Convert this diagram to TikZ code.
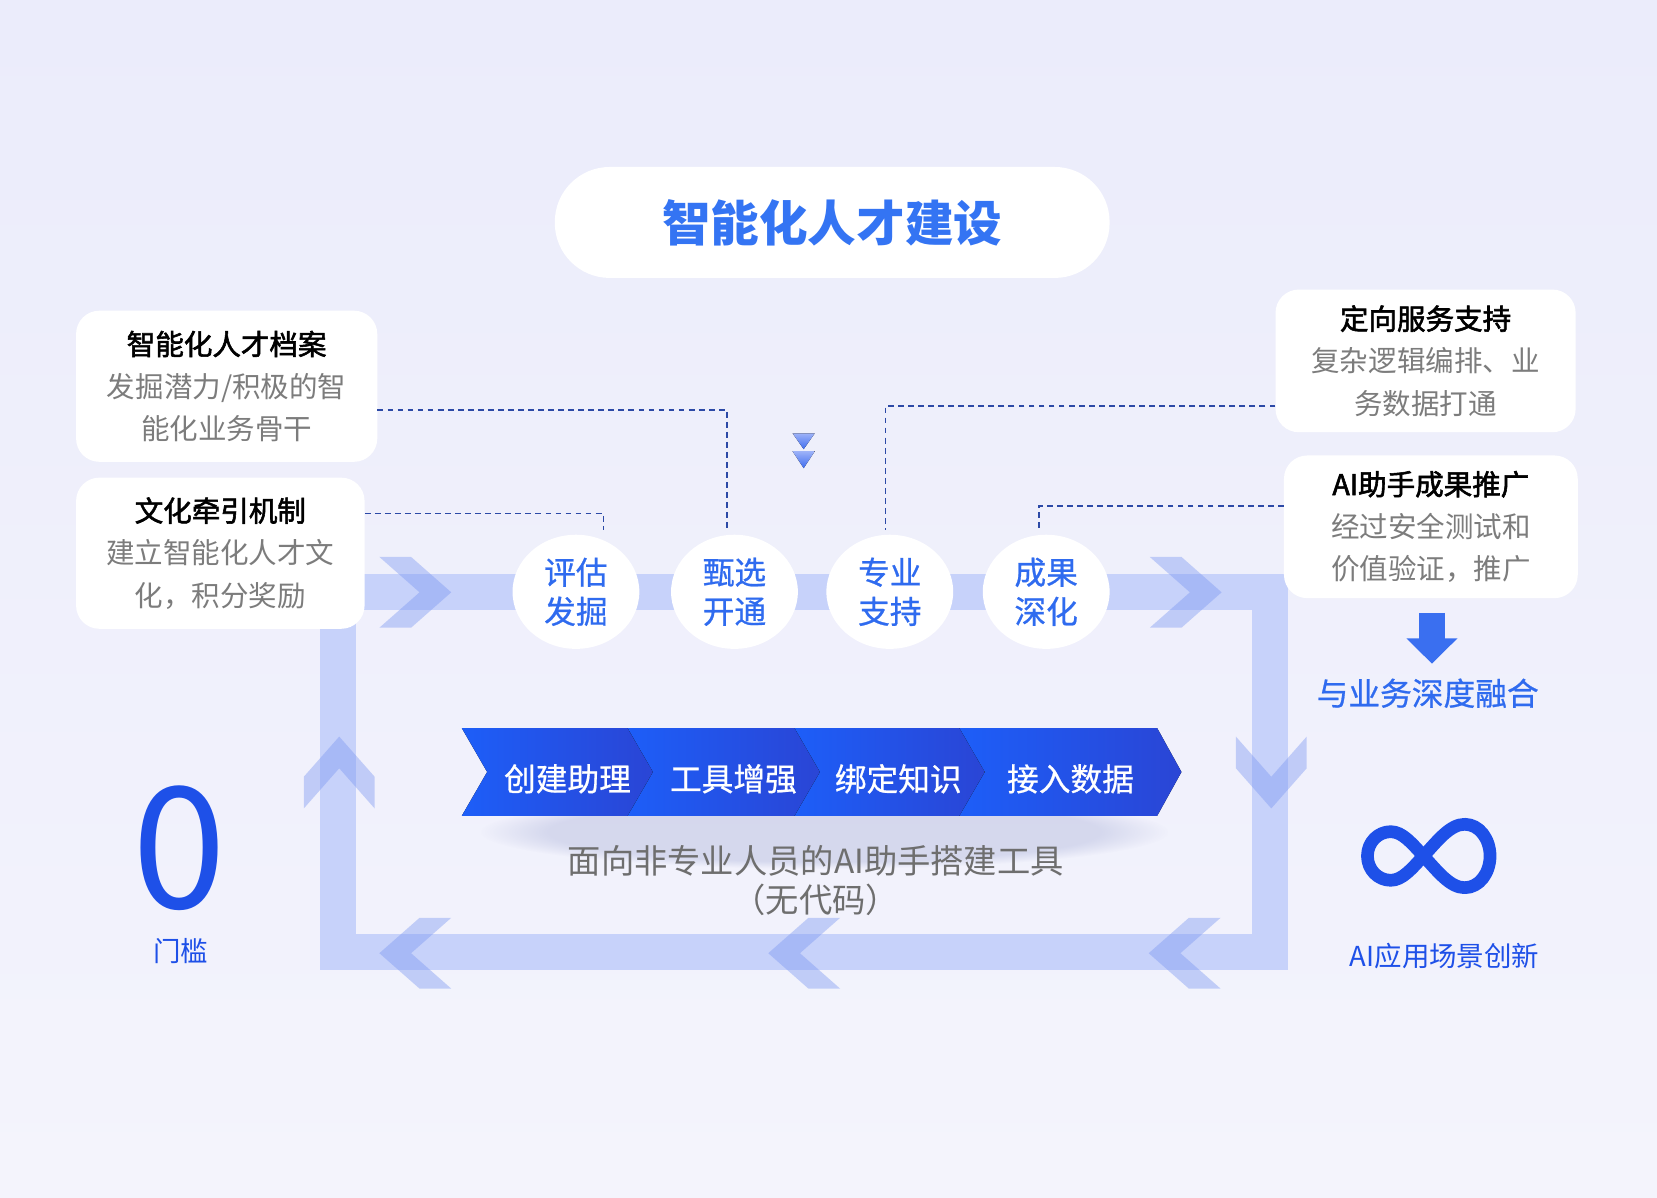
\documentclass[tikz,border=0pt]{standalone}
\usepackage{fontspec}
\setmainfont{Noto Sans CJK SC}
\newfontfamily\semib[FakeBold=2]{Noto Sans CJK SC}
\newfontfamily\medf[FakeBold=0.7]{Noto Sans CJK SC}
\usetikzlibrary{arrows.meta,shapes.geometric,fadings}
\definecolor{bgtop}{HTML}{EBECFB}
\definecolor{bgbot}{HTML}{F4F4FC}
\definecolor{bandcol}{HTML}{C7D2FA}
\definecolor{chevcol}{HTML}{7D98F2}
\definecolor{tblue}{HTML}{2F6BEF}
\definecolor{titleblue}{HTML}{3474F3}
\definecolor{dblue}{HTML}{1E50E8}
\definecolor{gtext}{HTML}{7C7C7C}
\definecolor{btext}{HTML}{6E6E6E}
\definecolor{dashcol}{HTML}{2C49A6}
\definecolor{seglft}{HTML}{1D5EF8}
\definecolor{segrgt}{HTML}{2A45D5}
\definecolor{arrowblue}{HTML}{3A6FF0}
\definecolor{trilight}{HTML}{9DB2F8}
\definecolor{trideep}{HTML}{3E6CF0}
\definecolor{shadowcol}{HTML}{6570B5}
\begin{document}
\begin{tikzpicture}[x=1pt,y=-1pt,
  card/.style={fill=white, rounded corners=22pt, inner sep=0pt, align=center,
    font=\fontsize{27}{40}\selectfont},
  bubble/.style={ellipse, fill=white, minimum width=120pt, minimum height=108pt,
    inner sep=0pt, align=center, text=tblue, font=\medf\fontsize{30}{37}\selectfont},
  link/.style={draw=dashcol, line width=1.7pt, dash pattern=on 5.5pt off 4pt, shorten >=4pt},
  segtext/.style={text=white, inner sep=0pt, font=\medf\fontsize{30}{30}\selectfont},
  seg/.style={left color=seglft, right color=segrgt, draw=none},
  chevshape/.pic={\fill[chevcol, fill opacity=0.42]
     (-34,-33.5) -- (-4,-33.5) -- (34,0) -- (-4,33.5) -- (-34,33.5) -- (4,0) -- cycle;}
]
\useasboundingbox (0,0) rectangle (1568,1133);
% background
\fill[top color=bgtop, bottom color=bgbot] (0,0) rectangle (1568,1133);

% flow band frame
\draw[bandcol, line width=34pt] (320,560) rectangle (1201.5,900.5);

% chevrons on the band
\pic at (393,560.5) {chevshape};
\pic at (1122,560.5) {chevshape};
\pic[rotate=-90] at (1203,731) {chevshape};
\pic[rotate=90] at (321,731) {chevshape};
\pic[rotate=180] at (393,902) {chevshape};
\pic[rotate=180] at (761,902) {chevshape};
\pic[rotate=180] at (1121,902) {chevshape};

% title
\node[fill=white, rounded corners=52pt, minimum width=525pt, minimum height=105pt,
  inner sep=0pt, text=titleblue, font=\fontsize{46}{46}\selectfont\bfseries]
  (title) at (787.5,210.5) {智能化人才建设};

% small double triangles
\fill[top color=trilight, bottom color=trideep] (750,410) -- (771,410) -- (760.5,425) -- cycle;
\fill[top color=trilight, bottom color=trideep] (750,427) -- (771,427) -- (760.5,443) -- cycle;

% cards
\node[card, minimum width=285pt, minimum height=143pt] (box1) at (214.5,365.5)
  {{\semib 智能化人才档案}\\\textcolor{gtext}{发掘潜力/积极的智}\\\textcolor{gtext}{能化业务骨干}};
\node[card, minimum width=273pt, minimum height=143pt] (box2) at (208.5,523.5)
  {{\semib 文化牵引机制}\\\textcolor{gtext}{建立智能化人才文}\\\textcolor{gtext}{化，积分奖励}};
\node[card, minimum width=284pt, minimum height=135pt] (box3) at (1349,341.5)
  {{\semib 定向服务支持}\\\textcolor{gtext}{复杂逻辑编排、业}\\\textcolor{gtext}{务数据打通}};
\node[card, minimum width=278pt, minimum height=135pt] (box4) at (1354,498.5)
  {{\semib AI助手成果推广}\\\textcolor{gtext}{经过安全测试和}\\\textcolor{gtext}{价值验证，推广}};

% bubbles
\node[bubble] (c1) at (545,560) {评估\\发掘};
\node[bubble] (c2) at (695,560) {甄选\\开通};
\node[bubble] (c3) at (842,560) {专业\\支持};
\node[bubble] (c4) at (990,560) {成果\\深化};

% dashed links
\draw[link] ([yshift=-22.5pt]box1.east) -| ([xshift=-7pt]c2.north);
\draw[link] ([yshift=37.5pt]box2.east) -| ([xshift=26pt]c1.north);
\draw[link] ([yshift=-42.5pt]box3.west) -| ([xshift=-4pt]c3.north);
\draw[link] ([yshift=19.5pt]box4.west) -| ([xshift=-7pt]c4.north);

% shadow under process bar
\fill[shadowcol, opacity=0.2, path fading=circle with fuzzy edge 20 percent]
  (455,752) rectangle (1105,822);

% process bar
\fill[seg] (437,689) -- (594,689) -- (618,730.5) -- (594,772) -- (437,772) -- (461,730.5) -- cycle;
\fill[seg] (594,689) -- (752,689) -- (776,730.5) -- (752,772) -- (594,772) -- (618,730.5) -- cycle;
\fill[seg] (752,689) -- (908,689) -- (932,730.5) -- (908,772) -- (752,772) -- (776,730.5) -- cycle;
\fill[seg] (908,689) -- (1095,689) -- (1118,730.5) -- (1095,772) -- (908,772) -- (932,730.5) -- cycle;
\node[segtext] (s1) at (537,737) {创建助理};
\node[segtext] (s2) at (694,737) {工具增强};
\node[segtext] (s3) at (850,737) {绑定知识};
\node[segtext] (s4) at (1013,737) {接入数据};

% caption
\node[text=btext, inner sep=0pt, align=center, font=\fontsize{31.5}{37}\selectfont]
  (cap) at (772,833) {面向非专业人员的AI助手搭建工具\\（无代码）};

% zero threshold
\node[text=dblue, inner sep=0pt, font=\fontsize{160}{160}\selectfont] (zero) at (170,803) {0};
\node[text=dblue, inner sep=0pt, font=\fontsize{26}{26}\selectfont] (zl) at (171,900) {门槛};

% right side
\node[text=tblue, inner sep=0pt, font=\medf\fontsize{30}{30}\selectfont] (merge) at (1351,656) {与业务深度融合};
\coordinate (arrS) at (1355,580);
\coordinate (arrE) at (1355,628);
\draw[arrowblue, line width=24pt, -{Triangle[width=47pt,length=24pt]}] (arrS) -- (arrE);

% infinity
\draw[dblue, line width=12pt, line join=round]
 (1347,810) .. controls (1360,796) and (1372,780) .. (1386,780)
 .. controls (1400,780) and (1410,794) .. (1410,810)
 .. controls (1410,826) and (1400,840) .. (1386,840)
 .. controls (1372,840) and (1360,824) .. (1347,810)
 .. controls (1336,798) and (1327,787) .. (1316,787)
 .. controls (1304,787) and (1294,797) .. (1294,810)
 .. controls (1294,823) and (1304,833) .. (1316,833)
 .. controls (1327,833) and (1336,822) .. (1347,810);
\node[text=dblue, inner sep=0pt, font=\fontsize{26}{26}\selectfont] (inf) at (1367,905) {AI应用场景创新};
\end{tikzpicture}
\end{document}
